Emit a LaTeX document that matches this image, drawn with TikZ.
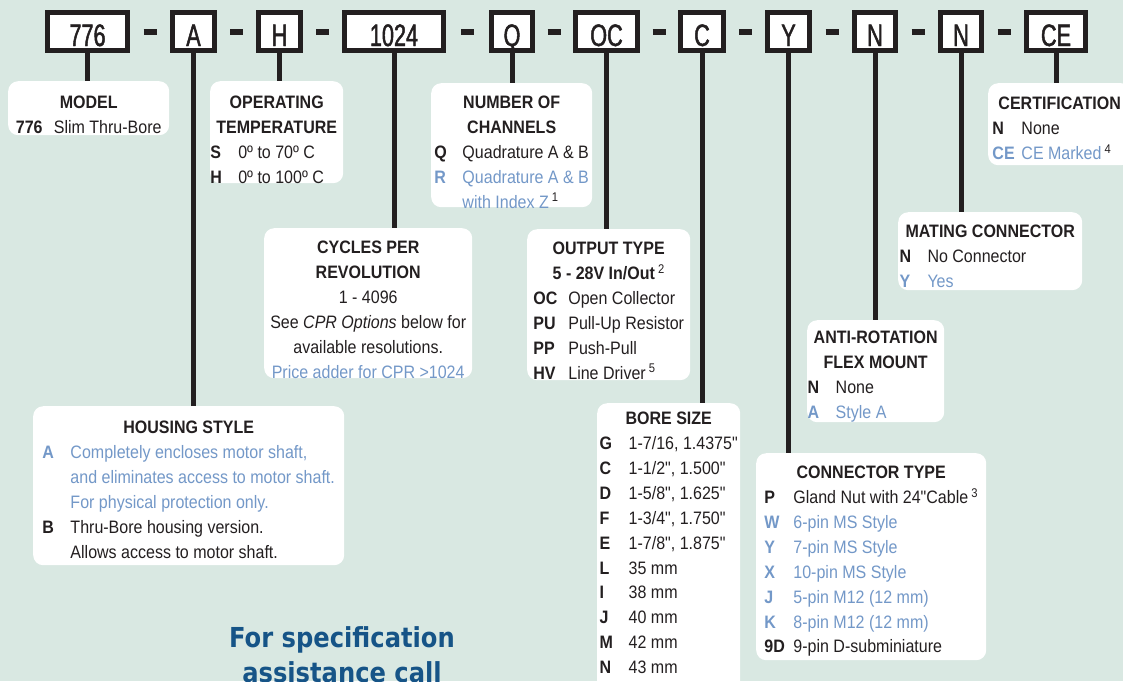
\documentclass[tikz,border=0pt]{standalone}
\usepackage{fontspec}
\setmainfont{Liberation Sans}[FakeStretch=0.89,Ligatures=TeXOff]
\newfontfamily\codefont{Liberation Sans}[FakeStretch=0.7,FakeBold=1.5]
\newfontfamily\callfont{DejaVu Sans}[FakeStretch=0.88]
\usetikzlibrary{positioning,calc}

\definecolor{bg}{RGB}{217,232,226}
\definecolor{ink}{RGB}{35,31,32}
\definecolor{lblue}{RGB}{115,152,200}
\definecolor{callblue}{RGB}{22,84,135}

\newcommand{\opt}[3][28pt]{\makebox[#1][l]{\bfseries #2}#3}
\newcommand{\optb}[3][28pt]{{\color{lblue}\makebox[#1][l]{\bfseries #2}#3}}
\newcommand{\sups}[1]{{\color{ink}\,\textsuperscript{#1}}}
\newcommand{\hd}[1]{\multicolumn{1}{c}{\bfseries #1}}

\begin{document}
\begin{tikzpicture}[x=1pt,y=-1pt,
    code/.style={draw=ink,line width=5pt,fill=white,minimum height=38pt,inner sep=0pt,
        text height=29pt,text depth=0pt,text=ink,font=\codefont\fontsize{31}{33}\selectfont},
    desc/.style={fill=white,rounded corners=10pt,inner sep=0pt,anchor=north west},
    txt/.style={inner sep=0pt,text=ink,font=\fontsize{18}{24.9}\selectfont},
    hyph/.style={draw=ink,line width=6pt},
    link/.style={draw=ink,line width=5pt},
    call/.style={inner sep=0pt,anchor=base,text=callblue,font=\callfont\bfseries\fontsize{27.5}{35}\selectfont}]
    \useasboundingbox (0,0) rectangle (1123,681);
    \clip (0,0) rectangle (1123,681);
    \fill[bg] (0,0) rectangle (1123,681);

    % order code
    \node[code,minimum width=80pt] (b776) at (87.5,31.5) {776};
    \node[code,minimum width=42pt] (bA) at (193.5,31.5) {A};
    \node[code,minimum width=42pt] (bH) at (279.5,31.5) {H};
    \node[code,minimum width=99pt] (b1024) at (394,31.5) {1024};
    \node[code,minimum width=41pt] (bQ) at (512,31.5) {Q};
    \node[code,minimum width=62pt] (bOC) at (606.5,31.5) {OC};
    \node[code,minimum width=43pt] (bC) at (702,31.5) {C};
    \node[code,minimum width=42pt] (bY) at (788.5,31.5) {Y};
    \node[code,minimum width=41pt] (bN) at (875,31.5) {N};
    \node[code,minimum width=41pt] (bNb) at (961,31.5) {N};
    \node[code,minimum width=59pt] (bCE) at (1056,31.5) {CE};

    \draw[hyph] ($(b776.east)!.5!(bA.west)$) +(-6.5,0) -- +(6.5,0);
    \draw[hyph] ($(bA.east)!.5!(bH.west)$) +(-6.5,0) -- +(6.5,0);
    \draw[hyph] ($(bH.east)!.5!(b1024.west)$) +(-6.5,0) -- +(6.5,0);
    \draw[hyph] ($(b1024.east)!.5!(bQ.west)$) +(-6.5,0) -- +(6.5,0);
    \draw[hyph] ($(bQ.east)!.5!(bOC.west)$) +(-6.5,0) -- +(6.5,0);
    \draw[hyph] ($(bOC.east)!.5!(bC.west)$) +(-6.5,0) -- +(6.5,0);
    \draw[hyph] ($(bC.east)!.5!(bY.west)$) +(-6.5,0) -- +(6.5,0);
    \draw[hyph] ($(bY.east)!.5!(bN.west)$) +(-6.5,0) -- +(6.5,0);
    \draw[hyph] ($(bN.east)!.5!(bNb.west)$) +(-6.5,0) -- +(6.5,0);
    \draw[hyph] ($(bNb.east)!.5!(bCE.west)$) +(-6.5,0) -- +(6.5,0);

    % option boxes
    \node[desc,minimum width=161pt,minimum height=54pt] (model) at (8,81) {};
    \node[desc,minimum width=133pt,minimum height=102pt] (temp) at (210,81) {};
    \node[desc,minimum width=161pt,minimum height=124pt] (chan) at (431,83) {};
    \node[desc,minimum width=143pt,minimum height=82pt] (cert) at (988,83) {};
    \node[desc,minimum width=208pt,minimum height=150pt] (cpr) at (264,228) {};
    \node[desc,minimum width=163pt,minimum height=151pt] (output) at (527,229) {};
    \node[desc,minimum width=184pt,minimum height=78pt] (mating) at (898,212) {};
    \node[desc,minimum width=137pt,minimum height=102pt] (anti) at (807,320) {};
    \node[desc,minimum width=311pt,minimum height=159pt] (housing) at (33,406) {};
    \node[desc,minimum width=143pt,minimum height=300pt] (bore) at (597,403) {};
    \node[desc,minimum width=230pt,minimum height=207pt] (conn) at (756,453) {};

    \draw[link] (b776.south) -- (b776.south |- model.north);
    \draw[link] (bA.south) -- (bA.south |- housing.north);
    \draw[link] (bH.south) -- (bH.south |- temp.north);
    \draw[link] (b1024.south) -- (b1024.south |- cpr.north);
    \draw[link] (bQ.south) -- (bQ.south |- chan.north);
    \draw[link] (bOC.south) -- (bOC.south |- output.north);
    \draw[link] (bC.south) -- (bC.south |- bore.north);
    \draw[link] (bY.south) -- (bY.south |- conn.north);
    \draw[link] (bN.south) -- (bN.south |- anti.north);
    \draw[link] (bNb.south) -- (bNb.south |- mating.north);
    \draw[link] (bCE.south) -- (bCE.south |- cert.north);

    % texts
    \node[txt,below=10pt of model.north] (modeltxt) {\begin{tabular}{@{}l@{}}
        \hd{MODEL}\\ \opt[38pt]{776}{Slim Thru-Bore}\end{tabular}};
    \node[txt,below=10pt of temp.north] (temptxt) {\begin{tabular}{@{}l@{}}
        \hd{OPERATING}\\ \hd{TEMPERATURE}\\ \opt{S}{0º to 70º C}\\ \opt{H}{0º to 100º C}\end{tabular}};
    \node[txt,below=8pt of chan.north] (chantxt) {\begin{tabular}{@{}l@{}}
        \hd{NUMBER OF}\\ \hd{CHANNELS}\\ \opt{Q}{Quadrature A \& B}\\
        \optb{R}{Quadrature A \& B}\\ \optb{}{with Index Z\sups{1}}\end{tabular}};
    \node[txt,below=9pt of cert.north] (certtxt) {\begin{tabular}{@{}l@{}}
        \hd{CERTIFICATION}\\ \opt[29pt]{N}{None}\\ \optb[29pt]{CE}{CE Marked\sups{4}}\end{tabular}};
    \node[txt,below=8pt of cpr.north] (cprtxt) {\begin{tabular}{@{}c@{}}
        \textbf{CYCLES PER}\\ \textbf{REVOLUTION}\\ 1 - 4096\\ See \textit{CPR Options} below for\\
        available resolutions.\\ {\color{lblue}Price adder for CPR >1024}\end{tabular}};
    \node[txt,below=8pt of output.north] (outputtxt) {\begin{tabular}{@{}l@{}}
        \hd{OUTPUT TYPE}\\ \multicolumn{1}{c}{\textbf{5 - 28V In/Out}\sups{2}}\\
        \opt[35pt]{OC}{Open Collector}\\ \opt[35pt]{PU}{Pull-Up Resistor}\\
        \opt[35pt]{PP}{Push-Pull}\\ \opt[35pt]{HV}{Line Driver\sups{5}}\end{tabular}};
    \node[txt,below=8pt of mating.north] (matingtxt) {\begin{tabular}{@{}l@{}}
        \hd{MATING CONNECTOR}\\ \opt{N}{No Connector}\\ \optb{Y}{Yes}\end{tabular}};
    \node[txt,below=6pt of anti.north] (antitxt) {\begin{tabular}{@{}l@{}}
        \hd{ANTI-ROTATION}\\ \hd{FLEX MOUNT}\\ \opt{N}{None}\\ \optb{A}{Style A}\end{tabular}};
    \node[txt,below=10pt of housing.north] (housingtxt) {\begin{tabular}{@{}l@{}}
        \hd{HOUSING STYLE}\\ \optb{A}{Completely encloses motor shaft,}\\
        \optb{}{and eliminates access to motor shaft.}\\ \optb{}{For physical protection only.}\\
        \opt{B}{Thru-Bore housing version.}\\ \opt{}{Allows access to motor shaft.}\end{tabular}};
    \node[txt,below=4pt of bore.north] (boretxt) {\begin{tabular}{@{}l@{}}
        \hd{BORE SIZE}\\ \opt[29pt]{G}{1-7/16, 1.4375"}\\ \opt[29pt]{C}{1-1/2", 1.500"}\\
        \opt[29pt]{D}{1-5/8", 1.625"}\\ \opt[29pt]{F}{1-3/4", 1.750"}\\ \opt[29pt]{E}{1-7/8", 1.875"}\\
        \opt[29pt]{L}{35 mm}\\ \opt[29pt]{I}{38 mm}\\ \opt[29pt]{J}{40 mm}\\
        \opt[29pt]{M}{42 mm}\\ \opt[29pt]{N}{43 mm}\end{tabular}};
    \node[txt,below=8pt of conn.north] (conntxt) {\begin{tabular}{@{}l@{}}
        \hd{CONNECTOR TYPE}\\ \opt[29pt]{P}{Gland Nut with 24"Cable\sups{3}}\\
        \optb[29pt]{W}{6-pin MS Style}\\ \optb[29pt]{Y}{7-pin MS Style}\\ \optb[29pt]{X}{10-pin MS Style}\\
        \optb[29pt]{J}{5-pin M12 (12 mm)}\\ \optb[29pt]{K}{8-pin M12 (12 mm)}\\
        \opt[29pt]{9D}{9-pin D-subminiature}\end{tabular}};

    \node[call] (call1) at (342,647) {For specification};
    \node[call] (call2) at (342,682) {assistance call};
\end{tikzpicture}
\end{document}
